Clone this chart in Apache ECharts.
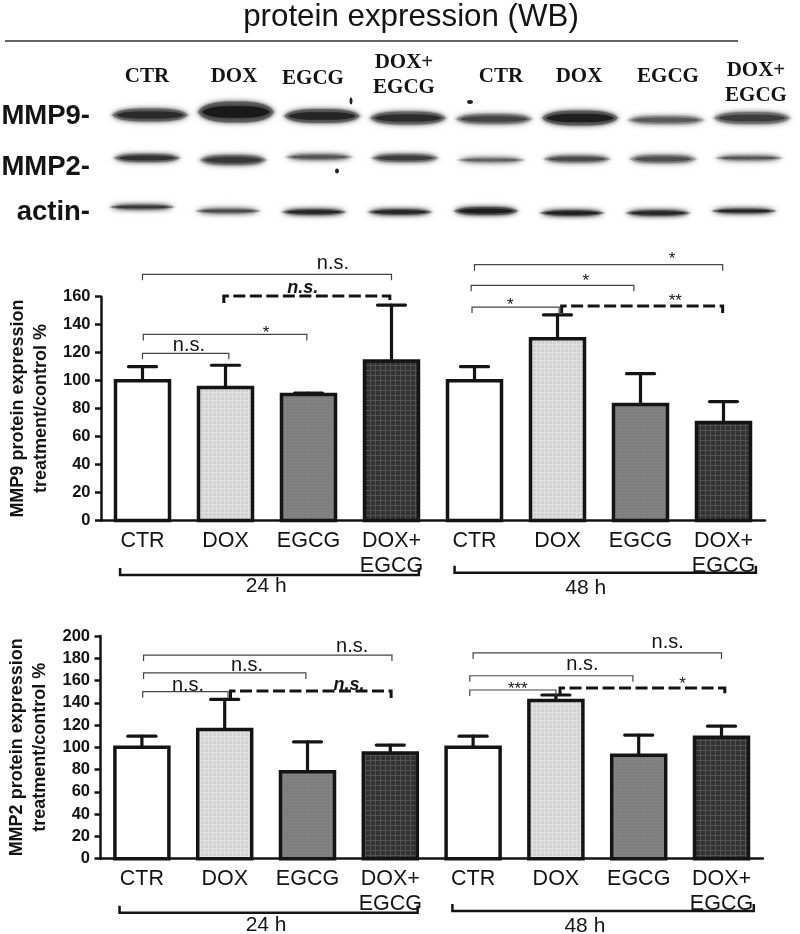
<!DOCTYPE html>
<html><head><meta charset="utf-8">
<style>html,body{margin:0;padding:0;background:#fff}#c{width:800px;height:934px}</style>
<script src="https://cdn.jsdelivr.net/npm/echarts@6/dist/echarts.min.js"></script>
</head><body><div id="c"></div>
<script>
// ---------- data ----------
const titleText = 'protein expression (WB)';
const categories = ['CTR','DOX','EGCG','DOX+\nEGCG','CTR','DOX','EGCG','DOX+\nEGCG'];
const yTitle9 = 'MMP9 protein expression\ntreatment/control %';
const yTitle2 = 'MMP2 protein expression\ntreatment/control %';
const mmp9Means = [100,95,90,114,100,130,83,70];
const mmp9Upper = [110,111,91,154,110,147,105,85];
const mmp2Means = [100,116,78,95,100,142,93,109];
const mmp2Upper = [110,143,105,102,110,147,111,119];
// brackets: [from, to, level]
const mmp9Thin = [[0,3,176],[0.01,1.98,133],[0,1.04,119.5],[4,6.99,182.9],[3.96,5.92,168.1],[3.97,5.02,152.6]];
const mmp9Dashed = [[0.98,2.98,160.5],[5.05,6.99,153.3]];
const mmp2Thin = [[0.02,3.02,182.9],[0.02,1.98,166.8],[0.01,1.04,150],[4,7,184.8],[3.96,5.93,164.3],[3.96,5.0,151.5]];
const mmp2Dashed = [[1.07,3.01,150.6],[5.05,7.04,153.3]];
const mmp9Marks = [[2.295,183.4,'n.s.'],[1.93,166.2,'n.s.','b'],[1.49,137,'*'],[0.56,124.8,'n.s.'],[6.38,189.3,'*'],[5.34,173.6,'*'],[4.43,156.9,'*'],[6.42,159.3,'**']];
const mmp2Marks = [[2.54,190.4,'n.s.'],[1.27,173.9,'n.s.'],[0.557,155.4,'n.s.'],[2.5,156,'n.s.','b'],[6.35,194,'n.s.'],[5.32,174,'n.s.'],[4.54,156,'***'],[6.53,160.5,'*']];
const mmp9Groups = [[-0.27,3.33,-39],[3.76,7.39,-37.3]];
const mmp2Groups = [[-0.27,3.33,-48.5],[3.75,7.39,-47]];
const mmp9GroupLabels = [[1.49,-47.3,'24 h'],[5.34,-48.3,'48 h']];
const mmp2GroupLabels = [[1.5,-59.5,'24 h'],[5.35,-61,'48 h']];
// western blot: band density and thickness per lane
const blotRows = ['MMP9-','MMP2-','actin-'];
const blotDensity = [
  [0.82,0.96,0.86,0.8,0.6,0.92,0.42,0.66],
  [0.75,0.7,0.45,0.65,0.35,0.55,0.5,0.45],
  [0.7,0.55,0.85,0.85,0.92,0.9,0.85,0.85]];
const blotThickness = [
  [13,21,14,13,10,15,8,12],
  [8,10,6,8,5,7,8,5],
  [5,5,6,6,8,6,6,5]];
const laneLabels = ['CTR','DOX','EGCG','DOX+\nEGCG','CTR','DOX','EGCG','DOX+\nEGCG'];

// ---------- style ----------
const SANS = '"Liberation Sans", Arial, sans-serif';
const SERIF = '"Liberation Serif", "Times New Roman", serif';
const INK = '#141414';
const blotLayout = {rowDx:[0,-3,-8], rowDy:[0,0,10], width:[82,72,70],
  laneDy:[[-1,-4,0,2,3,2,4,2],[0,2,-1,0,2,1,1,0],[-3,1,2,2,1,3,3,1]]};
function pattern(base, line, step){
  const c = document.createElement('canvas'); c.width = c.height = step;
  const x = c.getContext('2d');
  x.fillStyle = base; x.fillRect(0,0,step,step);
  x.fillStyle = line; x.fillRect(0,0,1,step); x.fillRect(0,0,step,1);
  return {image:c, repeat:'repeat'};
}
const fills = ['#ffffff', pattern('#d2d2d2','#e2e2e2',4), pattern('#7c7c7c','#848484',3), pattern('#323232','#525252',5)];
const BAR_W = 54;
const barData = v => v.map((d,i)=>({value:d,itemStyle:{color:fills[i%4]}}));

function outlineSeries(x,y,means){
  return {type:'custom',xAxisIndex:x,yAxisIndex:y,z:3,silent:true,
    data:means.map((m,i)=>[i,m]),
    renderItem(p,api){
      const a=api.coord([api.value(0),api.value(1)]), b=api.coord([api.value(0),0]);
      return {type:'rect',shape:{x:a[0]-BAR_W/2,y:a[1],width:BAR_W,height:b[1]-a[1]},
        style:{fill:null,stroke:INK,lineWidth:3.5}};
    }};
}
function errorSeries(x,y,upper,means){
  return {type:'custom',xAxisIndex:x,yAxisIndex:y,z:1,silent:true,
    data:upper.map((u,i)=>[i,means[i],u]),
    renderItem(p,api){
      const a=api.coord([api.value(0),api.value(1)]), b=api.coord([api.value(0),api.value(2)]);
      const s={stroke:INK,lineWidth:3.2,fill:null,lineCap:'round'};
      return {type:'group',children:[
        {type:'line',shape:{x1:a[0],y1:a[1],x2:b[0],y2:b[1]},style:s},
        {type:'line',shape:{x1:b[0]-14,y1:b[1],x2:b[0]+14,y2:b[1]},style:s}]};
    }};
}
function bracketSeries(x,y,rows,opt){
  return {type:'custom',xAxisIndex:x,yAxisIndex:y,z:5,silent:true,data:rows,
    renderItem(p,api){
      const a=api.coord([api.value(0),api.value(2)]), b=api.coord([api.value(1),api.value(2)]);
      return {type:'polyline',shape:{points:[[a[0],a[1]+opt.tick],[a[0],a[1]],[b[0],b[1]],[b[0],b[1]+opt.tick]]},
        style:{stroke:opt.color,lineWidth:opt.width,fill:null,lineDash:opt.dash||null}};
    }};
}
function textSeries(x,y,rows,fontFor,dyFor){
  return {type:'custom',xAxisIndex:x,yAxisIndex:y,z:6,silent:true,data:rows.map(r=>[r[0],r[1]]),
    renderItem(p,api){
      const r=rows[p.dataIndex], a=api.coord([api.value(0),api.value(1)]);
      return {type:'text',x:a[0],y:a[1]+(dyFor?dyFor(r):0),
        style:{text:r[2],font:fontFor(r),fill:INK,textAlign:'center',textVerticalAlign:'middle'}};
    }};
}
const markFont = r => r[3]==='b' ? 'italic bold 18px '+SANS : (r[2].startsWith('*') ? '17px '+SANS : '20px '+SANS);
const markDy = r => r[2].startsWith('*') ? 4 : 0;
const groupFont = () => '21px '+SANS;

function blotSeries(){
  const rows=[];
  blotDensity.forEach((row,r)=>row.forEach((d,l)=>rows.push([l,r,d,blotThickness[r][l]])));
  return {type:'custom',xAxisIndex:0,yAxisIndex:0,z:1,silent:true,data:rows,
    renderItem(p,api){
      const l=api.value(0), r=api.value(1), d=api.value(2), t=api.value(3);
      const c=api.coord([l,r]);
      const cx=c[0]+blotLayout.rowDx[r], cy=c[1]+blotLayout.rowDy[r]+blotLayout.laneDy[r][l];
      const lens=(w,h)=>{const pts=[];const n=24;
        for(let i=0;i<=n;i++){const u=-1+2*i/n;pts.push([cx+u*w/2,cy-(h/2)*Math.pow(1-Math.pow(Math.abs(u),3),0.7)]);}
        for(let i=n;i>=0;i--){const u=-1+2*i/n;pts.push([cx+u*w/2,cy+(h/2)*Math.pow(1-Math.pow(Math.abs(u),3),0.7)]);}
        return pts;};
      const w=blotLayout.width[r];
      const core=Math.round(20+(1-d)*120);
      const col=`rgb(${core},${core},${core})`;
      const mid=Math.round(95+(1-d)*110);
      const midc=`rgb(${mid},${mid},${mid})`;
      return {type:'group',children:[
        {type:'polygon',shape:{points:lens(w,t+2)},style:{fill:'rgba(170,170,170,0.25)',shadowBlur:10,shadowColor:'rgba(160,160,160,0.8)'}},
        {type:'polygon',shape:{points:lens(w-6,t)},style:{fill:midc,shadowBlur:5,shadowColor:midc}},
        {type:'polygon',shape:{points:lens(w-14,Math.max(2,t*0.55))},style:{fill:col,shadowBlur:5,shadowColor:col}}
      ]};
    }};
}

// lane labels, row labels and blot specks belong to the picture panel
const laneText=[[147,77],[234,77],[313,79],[404,75],[501,77],[579,77],[668,77],[756,83]];
const laneGraphics=laneLabels.map((t,i)=>({type:'text',x:laneText[i][0],y:laneText[i][1],
  style:{text:t,font:'bold 21px '+SERIF,fill:INK,textAlign:'center',textVerticalAlign:'middle',lineHeight:25}}));
const rowTextY=[116.5,167,212];
const rowGraphics=blotRows.map((t,i)=>({type:'text',x:90,y:rowTextY[i],
  style:{text:t,font:'bold 27.5px '+SANS,fill:INK,textAlign:'right',textVerticalAlign:'middle'}}));
const specks=[[351,101,1.5,3.5],[470,102,3,2],[337,171,2,2.5]].map(s=>({type:'ellipse',
  shape:{cx:s[0],cy:s[1],rx:s[2],ry:s[3]},style:{fill:'#222'}}));

const valAxisCommon = {type:'value',min:0,interval:20,
  axisLine:{show:true,onZero:false,lineStyle:{color:INK,width:2.5}},
  axisTick:{show:true,length:6,lineStyle:{color:INK,width:2.5}},
  splitLine:{show:false},
  axisLabel:{color:INK,fontFamily:SANS,fontWeight:'bold',fontSize:16.5,margin:10.5},
  nameLocation:'middle',nameRotate:90,nameGap:38.5,
  nameTextStyle:{color:INK,fontFamily:SANS,fontWeight:'bold',fontSize:18,lineHeight:23}};
const catAxisCommon = {type:'category',data:categories,
  axisLine:{show:true,onZero:false,lineStyle:{color:INK,width:2.5}},axisTick:{show:false},
  axisLabel:{color:INK,fontFamily:SANS,fontSize:21.5,lineHeight:25,margin:8,interval:0}};
const hiddenX = {type:'value',min:-0.5,max:7.5,show:false};

const option = {
  animation:false,backgroundColor:'#fff',
  title:{text:titleText,left:406,textAlign:'center',top:-3,
    textStyle:{fontFamily:SANS,fontSize:31.3,fontWeight:'normal',color:INK}},
  graphic:[{type:'line',shape:{x1:5,y1:41,x2:738,y2:41},style:{stroke:'#666',lineWidth:2}}]
    .concat(laneGraphics,rowGraphics,specks),
  grid:[
    {left:107,width:688,top:95,height:126,outerBoundsMode:'none'},
    {left:101,width:664,top:296.7,height:223.8,outerBoundsMode:'none'},
    {left:100.5,width:662.4,top:636,height:222.7,outerBoundsMode:'none'}
  ],
  xAxis:[
    {type:'category',gridIndex:0,show:false,data:laneLabels.map((t,i)=>i)},
    Object.assign({gridIndex:1},catAxisCommon),
    Object.assign({gridIndex:1},hiddenX),
    Object.assign({gridIndex:2},catAxisCommon),
    Object.assign({gridIndex:2},hiddenX)
  ],
  yAxis:[
    {type:'category',gridIndex:0,show:false,inverse:true,data:blotRows},
    Object.assign({gridIndex:1,max:160,name:yTitle9},valAxisCommon),
    Object.assign({gridIndex:2,max:200,name:yTitle2},valAxisCommon)
  ],
  series:[
    blotSeries(),
    errorSeries(1,1,mmp9Upper,mmp9Means),
    {type:'bar',xAxisIndex:1,yAxisIndex:1,z:2,barWidth:BAR_W,data:barData(mmp9Means),silent:true},
    outlineSeries(1,1,mmp9Means),
    bracketSeries(2,1,mmp9Thin,{tick:6,width:1.2,color:'#444'}),
    bracketSeries(2,1,mmp9Dashed,{tick:7,width:3,color:INK,dash:[12,4.5]}),
    bracketSeries(2,1,mmp9Groups,{tick:-7,width:2.5,color:INK}),
    textSeries(2,1,mmp9Marks,markFont,markDy),
    textSeries(2,1,mmp9GroupLabels,groupFont),
    errorSeries(3,2,mmp2Upper,mmp2Means),
    {type:'bar',xAxisIndex:3,yAxisIndex:2,z:2,barWidth:BAR_W,data:barData(mmp2Means),silent:true},
    outlineSeries(3,2,mmp2Means),
    bracketSeries(4,2,mmp2Thin,{tick:6,width:1.2,color:'#444'}),
    bracketSeries(4,2,mmp2Dashed,{tick:7,width:3,color:INK,dash:[12,4.5]}),
    bracketSeries(4,2,mmp2Groups,{tick:-7,width:2.5,color:INK}),
    textSeries(4,2,mmp2Marks,markFont,markDy),
    textSeries(4,2,mmp2GroupLabels,groupFont)
  ]
};
echarts.init(document.getElementById('c'),null,{renderer:'canvas'}).setOption(option);
</script></body></html>
